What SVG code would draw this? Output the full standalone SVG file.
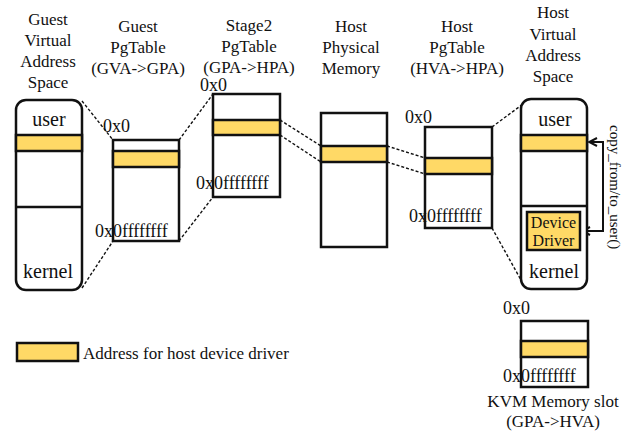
<svg xmlns="http://www.w3.org/2000/svg" width="632" height="433" viewBox="0 0 632 433">
  <defs>
    <style>
      text { font-family: "Liberation Serif", "Times New Roman", serif; fill: #111; }
      .title { font-size: 17px; text-anchor: middle; }
      .seg { font-size: 20px; text-anchor: middle; }
      .hex { font-size: 18px; }
      .box { fill: #fff; stroke: #111; stroke-width: 2.5; }
      .hl { fill: #FFD966; stroke: #111; stroke-width: 2.5; }
      .line { stroke: #111; stroke-width: 2.5; fill: none; }
      .dash { stroke: #111; stroke-width: 1.4; stroke-dasharray: 3 2; fill: none; }
      .arrow { stroke: #111; stroke-width: 2; fill: none; }
    </style>
    <marker id="chev" viewBox="0 0 10 10" refX="9" refY="5" markerWidth="5" markerHeight="5" orient="auto-start-reverse" markerUnits="strokeWidth">
      <path d="M1,1 L9,5 L1,9" fill="none" stroke="#111" stroke-width="2"/>
    </marker>
  </defs>
  <rect width="632" height="433" fill="#fff"/>

  <!-- mapping connectors -->
  <g id="connectors">
    <line class="dash" x1="82" y1="101" x2="113" y2="140"/>
    <line class="dash" x1="82" y1="288" x2="113" y2="241"/>
    <line class="dash" x1="179" y1="140" x2="213" y2="94"/>
    <line class="dash" x1="179" y1="241" x2="213" y2="197"/>
    <line class="dash" x1="280" y1="120" x2="321" y2="146"/>
    <line class="dash" x1="280" y1="135" x2="321" y2="162"/>
    <line class="dash" x1="387" y1="146" x2="425" y2="158"/>
    <line class="dash" x1="387" y1="162" x2="425" y2="174"/>
    <line class="dash" x1="492" y1="127" x2="523" y2="104"/>
    <line class="dash" x1="492" y1="228" x2="521" y2="280"/>
    <polyline class="arrow" points="589,142 603,142 603,231 582,231" marker-start="url(#chev)" marker-end="url(#chev)"/>
    <text transform="translate(610,125) rotate(90)" font-size="15">copy_from/to_user()</text>
  </g>

  <!-- guest virtual address space -->
  <g id="gva">
    <text class="title" x="48" y="25">Guest</text>
    <text class="title" x="48" y="46">Virtual</text>
    <text class="title" x="48" y="67">Address</text>
    <text class="title" x="48" y="88">Space</text>
    <rect class="box" x="16" y="100" width="66" height="190" rx="10"/>
    <rect class="hl" x="16" y="135" width="66" height="16"/>
    <line class="line" x1="16" y1="207" x2="82" y2="207"/>
    <text class="seg" x="49" y="126">user</text>
    <text class="seg" x="48" y="278">kernel</text>
  </g>

  <!-- guest page table -->
  <g id="guest-pgtable">
    <text class="title" x="138" y="32">Guest</text>
    <text class="title" x="138" y="53">PgTable</text>
    <text class="title" x="138" y="74">(GVA-&gt;GPA)</text>
    <rect class="box" x="113" y="140" width="66" height="101"/>
    <rect class="hl" x="113" y="151" width="66" height="16"/>
    <text class="hex" x="103" y="132">0x0</text>
    <text class="hex" x="95" y="237">0x0ffffffff</text>
  </g>

  <!-- stage2 page table -->
  <g id="stage2-pgtable">
    <text class="title" x="249" y="31">Stage2</text>
    <text class="title" x="249" y="52">PgTable</text>
    <text class="title" x="249" y="73">(GPA-&gt;HPA)</text>
    <rect class="box" x="213" y="94" width="67" height="103"/>
    <rect class="hl" x="213" y="120" width="67" height="15"/>
    <text class="hex" x="200" y="91">0x0</text>
    <text class="hex" x="196" y="189">0x0ffffffff</text>
  </g>

  <!-- host physical memory -->
  <g id="host-physical">
    <text class="title" x="351" y="32">Host</text>
    <text class="title" x="351" y="53">Physical</text>
    <text class="title" x="351" y="74">Memory</text>
    <rect class="box" x="321" y="113" width="66" height="134"/>
    <rect class="hl" x="321" y="146" width="66" height="16"/>
  </g>

  <!-- host page table -->
  <g id="host-pgtable">
    <text class="title" x="457" y="32">Host</text>
    <text class="title" x="457" y="53">PgTable</text>
    <text class="title" x="457" y="74">(HVA-&gt;HPA)</text>
    <rect class="box" x="425" y="127" width="67" height="101"/>
    <rect class="hl" x="425" y="158" width="67" height="16"/>
    <text class="hex" x="405" y="123">0x0</text>
    <text class="hex" x="409" y="222">0x0ffffffff</text>
  </g>

  <!-- host virtual address space -->
  <g id="hva">
    <text class="title" x="553" y="18">Host</text>
    <text class="title" x="553" y="40">Virtual</text>
    <text class="title" x="553" y="61">Address</text>
    <text class="title" x="553" y="82">Space</text>
    <rect class="box" x="521" y="99" width="66" height="190" rx="10"/>
    <rect class="hl" x="521" y="135" width="66" height="16"/>
    <line class="line" x1="521" y1="206" x2="587" y2="206"/>
    <text class="seg" x="555" y="126">user</text>
    <text class="seg" x="554" y="278">kernel</text>
  </g>

  <!-- device driver inside host kernel space -->
  <g id="device-driver">
    <rect class="hl" x="527" y="212" width="53" height="38"/>
    <text x="553.5" y="228" font-size="16" text-anchor="middle">Device</text>
    <text x="553.5" y="246" font-size="16" text-anchor="middle">Driver</text>
  </g>

  <!-- kvm memory slot -->
  <g id="kvm-slot">
    <rect class="box" x="521" y="321" width="67" height="66"/>
    <rect class="hl" x="521" y="341" width="67" height="16"/>
    <text class="hex" x="503" y="314">0x0</text>
    <text class="hex" x="503" y="382">0x0ffffffff</text>
    <text class="title" x="553" y="407">KVM Memory slot</text>
    <text class="title" x="553" y="427">(GPA-&gt;HVA)</text>
  </g>

  <!-- legend -->
  <g id="legend">
    <rect class="hl" x="17" y="343" width="61" height="18"/>
    <text x="83" y="359" font-size="17">Address for host device driver</text>
  </g>
</svg>
